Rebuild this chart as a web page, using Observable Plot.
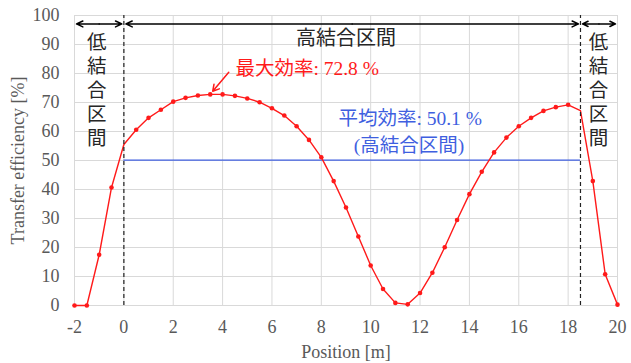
<!DOCTYPE html>
<html>
<head>
<meta charset="utf-8">
<script src="https://cdn.jsdelivr.net/npm/d3@7"></script>
<script src="https://cdn.jsdelivr.net/npm/@observablehq/plot@0.6"></script>
<style>
  html, body { margin: 0; padding: 0; background: #fff; }
  #chart svg text { font-family: "Liberation Serif", "Times New Roman", "Noto Sans CJK JP", serif !important; }
</style>
</head>
<body>
<div id="chart"></div>
<script>
const positions = [-2, -1.5, -1, -0.5, 0, 0.5, 1, 1.5, 2, 2.5, 3, 3.5, 4, 4.5, 5, 5.5, 6, 6.5, 7, 7.5, 8, 8.5, 9, 9.5, 10, 10.5, 11, 11.5, 12, 12.5, 13, 13.5, 14, 14.5, 15, 15.5, 16, 16.5, 17, 17.5, 18, 18.5, 19, 19.5, 20];
const efficiency = [0, 0, 17.5, 40.7, 55.5, 60.6, 64.7, 67.5, 70.3, 71.6, 72.4, 72.8, 72.8, 72.3, 71.4, 70.1, 68.0, 65.5, 61.8, 57.1, 51.1, 42.9, 33.8, 23.8, 13.8, 5.7, 0.9, 0.4, 4.3, 11.3, 20.1, 29.5, 38.4, 46.1, 52.8, 57.9, 61.8, 64.7, 67.1, 68.4, 69.2, 67.2, 42.9, 10.8, 0.3];
const boundaries = [0, 18.5];
const averageEff = 50.1;
const maxEff = 72.8;
const xTicks = [-2, 0, 2, 4, 6, 8, 10, 12, 14, 16, 18, 20];
const yTicks = [0, 10, 20, 30, 40, 50, 60, 70, 80, 90, 100];
const xLabel = "Position [m]";
const yLabel = "Transfer efficiency [%]";

const data = positions.map((x, i) => ({x, y: efficiency[i]}));
const dotData = data.filter(d => !boundaries.includes(d.x));

const gray = "#595959";
const blue = "#3f5fe0";
const red = "#ff1a1a";
const arrowY = 97.1;

const chart = Plot.plot({
  width: 631,
  height: 363,
  marginLeft: 74,
  marginRight: 14,
  marginTop: 15,
  marginBottom: 58,
  style: {fontSize: "18px", color: gray, background: "#fff"},
  x: {domain: [-2, 20]},
  y: {domain: [0, 100]},
  marks: [
    Plot.gridX(xTicks, {stroke: "#d9d9d9", strokeOpacity: 1, strokeWidth: 1}),
    Plot.gridY(yTicks, {stroke: "#d9d9d9", strokeOpacity: 1, strokeWidth: 1}),
    Plot.axisX(xTicks, {tickSize: 0, tickPadding: 15, fontSize: 18, fill: gray, tickFormat: d => String(d), label: null}),
    Plot.axisY(yTicks, {tickSize: 0, tickPadding: 15, fontSize: 18, fill: gray, tickFormat: d => String(d), label: null}),
    Plot.text([xLabel], {frameAnchor: "bottom", dy: 47, lineAnchor: "middle", textAnchor: "middle", fontSize: 18, fill: gray}),
    Plot.text([yLabel], {frameAnchor: "left", dx: -56, rotate: -90, textAnchor: "middle", lineAnchor: "middle", fontSize: 18, fill: gray}),
    Plot.ruleY([averageEff], {x1: boundaries[0], x2: boundaries[1], stroke: blue, strokeWidth: 1.3}),
    Plot.line(data, {x: "x", y: "y", stroke: red, strokeWidth: 1.4}),
    Plot.dot(dotData, {x: "x", y: "y", r: 2.3, fill: red, stroke: "none"}),
    Plot.ruleX(boundaries, {y1: 0, y2: 100, stroke: "#222", strokeWidth: 1.2, strokeDasharray: "4,3"}),
    Plot.arrow([
      {x1: -1, x2: -2}, {x1: -1, x2: 0},
      {x1: 9.25, x2: 0}, {x1: 9.25, x2: 18.5},
      {x1: 19.25, x2: 18.5}, {x1: 19.25, x2: 20}
    ], {x1: "x1", x2: "x2", y1: arrowY, y2: arrowY, stroke: "#000", strokeWidth: 1.5, headLength: 7, headAngle: 50, insetEnd: 2}),
    Plot.text(["高結合区間"], {x: 9, y: 92, fontSize: 20, fill: "#262626"}),
    Plot.text(["低\n結\n合\n区\n間"], {x: -1.1, y: 74.5, fontSize: 19.5, lineHeight: 1.22, fill: "#262626"}),
    Plot.text(["低\n結\n合\n区\n間"], {x: 19.23, y: 74.5, fontSize: 19.5, lineHeight: 1.22, fill: "#262626"}),
    Plot.text([`最大効率: ${maxEff} %`], {x: 4.52, y: 81.7, textAnchor: "start", fontSize: 19.5, fill: red}),
    Plot.arrow([{x1: 4.25, y1: 80.4, x2: 3.6, y2: 73.9}], {x1: "x1", y1: "y1", x2: "x2", y2: "y2", stroke: red, strokeWidth: 1.5, headLength: 7}),
    Plot.text([`平均効率: ${averageEff} %`], {x: 11.6, y: 64.5, fontSize: 19.5, fill: blue}),
    Plot.text(["(高結合区間)"], {x: 11.55, y: 55.2, fontSize: 19.5, fill: blue})
  ]
});
document.getElementById("chart").appendChild(chart);
</script>
</body>
</html>
